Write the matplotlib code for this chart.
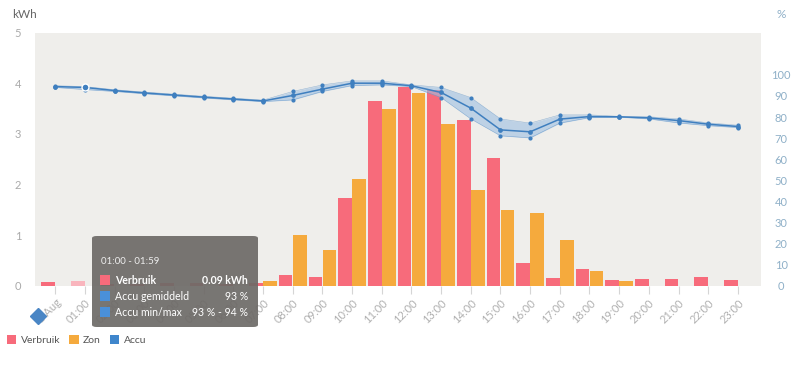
import matplotlib
matplotlib.use("Agg")
import matplotlib.pyplot as plt
from matplotlib.patches import FancyBboxPatch, Rectangle, Patch
from matplotlib.lines import Line2D
import numpy as np

plt.rcParams['font.family'] = ['Lato', 'DejaVu Sans']

# ---- data ----
hours = list(range(24))
tick_labels = ["1 Aug"] + [f"{h:02d}:00" for h in range(1, 24)]
verbruik = [0.07, 0.09, 0.04, 0.04, 0.05, 0.05, 0.04, 0.05, 0.22, 0.18, 1.73, 3.65,
            3.92, 3.87, 3.27, 2.52, 0.46, 0.15, 0.33, 0.12, 0.14, 0.14, 0.17, 0.11]
zon = [0, 0, 0, 0, 0, 0, 0, 0.10, 1.00, 0.71, 2.11, 3.50,
       3.80, 3.20, 1.90, 1.50, 1.44, 0.90, 0.30, 0.10, 0, 0, 0, 0]
accu_avg = [94.4, 94.0, 92.5, 91.4, 90.4, 89.4, 88.5, 87.6, 90.2, 93.2, 96.0, 96.0,
            94.8, 91.6, 84.2, 73.9, 73.0, 79.0, 80.2, 80.1, 79.6, 78.3, 76.6, 75.5]
accu_min = [94.0, 93.0, 92.1, 91.0, 90.0, 89.0, 88.1, 87.3, 88.1, 92.1, 94.9, 95.2,
            94.4, 89.2, 79.1, 71.1, 70.1, 77.1, 79.7, 79.9, 79.1, 77.2, 75.9, 75.0]
accu_max = [94.8, 94.4, 92.9, 91.8, 90.8, 89.8, 88.9, 88.0, 92.1, 95.2, 97.1, 97.1,
            95.2, 94.0, 89.2, 79.1, 77.1, 81.0, 81.0, 80.3, 80.1, 79.1, 77.2, 76.1]
hover_index = 1

RED = '#f76b7b'
RED_HOVER = '#f9b5bd'
ORANGE = '#f5aa3d'
BLUE = '#3f7fbf'
BAND = '#9dbfe2'
BG = '#efeeeb'

fig = plt.figure(figsize=(8, 3.69), dpi=100)
ax = fig.add_axes([35/800, 1-286/369, 726/800, (286-32.5)/369])
ax.set_facecolor(BG)
for s in ax.spines.values():
    s.set_visible(False)

x = np.array(hours)
w = 0.46
red_colors = [RED_HOVER if i == hover_index else RED for i in hours]
ax.bar(x - 0.24, verbruik, width=w, color=red_colors, zorder=2)
ax.bar(x + 0.24, zon, width=w, color=ORANGE, zorder=2)

ax.set_xlim(-0.688, 23.78)
ax.set_ylim(0, 5)
ax.set_yticks([0, 1, 2, 3, 4, 5])
ax.tick_params(axis='y', length=0, pad=10, labelcolor='#aaaaaa', labelsize=8)
ax.set_xticks(x)
ax.set_xticklabels(tick_labels, rotation=45, ha='right', rotation_mode='anchor')
ax.tick_params(axis='x', length=6, width=0.8, color='#d5d5d5', pad=2,
               labelcolor='#b0b0b0', labelsize=8)

ax2 = ax.twinx()
for s in ax2.spines.values():
    s.set_visible(False)
ax2.set_ylim(0, 120)
ax2.set_yticks(range(0, 101, 10))
ax2.tick_params(axis='y', length=0, pad=14.5, labelcolor='#8fb0c8', labelsize=8)
for lab in ax2.get_yticklabels():
    lab.set_ha('center')

ax2.fill_between(x, accu_min, accu_max, color=BAND, alpha=0.6, lw=0, zorder=3)
ax2.plot(x, accu_min, color=BLUE, lw=0.4, alpha=0.5, zorder=3)
ax2.plot(x, accu_max, color=BLUE, lw=0.4, alpha=0.5, zorder=3)
ax2.plot(x, accu_min, 'o', color=BLUE, ms=2.0, zorder=4)
ax2.plot(x, accu_max, 'o', color=BLUE, ms=2.0, zorder=4)
ax2.plot(x, accu_avg, '-o', color=BLUE, lw=1.1, ms=2.4, zorder=5)
ax2.plot([x[hover_index]], [accu_avg[hover_index]], 'o', color=BLUE, ms=5,
         mec='white', mew=1.0, zorder=6)

# axis titles
fig.text(12/800, 1-14/369, 'kWh', color='#666666', fontsize=8.5, va='center')
fig.text(781/800, 1-14/369, '%', color='#8fb0c8', fontsize=8.5, va='center', ha='center')

# diamond marker near date label
fig.add_artist(Line2D([38/800], [1-316/369], marker='D', ms=8.5, color='#4a86c5',
                      transform=fig.transFigure))

# tooltip
tx0, ty0, tx1, ty1 = 92, 236, 258, 327
fig.add_artist(FancyBboxPatch((tx0/800, 1-ty1/369), (tx1-tx0)/800, (ty1-ty0)/369,
                              boxstyle='round,pad=0,rounding_size=0.006',
                              transform=fig.transFigure, facecolor='#6d6a67',
                              edgecolor='none', alpha=0.92, zorder=10))
fig.text(101/800, 1-262/369, '01:00 - 01:59', color='#eeeeee', fontsize=7,
         va='center', zorder=11)
rows = [('Verbruik', '0.09 kWh', RED, 'bold'),
        ('Accu gemiddeld', '93 %', '#4a90d9', 'normal'),
        ('Accu min/max', '93 % - 94 %', '#4a90d9', 'normal')]
for i, (name, val, col, wt) in enumerate(rows):
    yy = 280 + i*16
    fig.add_artist(Rectangle((100/800, 1-(yy+5)/369), 10/800, 10/369,
                             transform=fig.transFigure, facecolor=col,
                             edgecolor='none', zorder=11))
    fig.text(115/800, 1-yy/369, name, color='white', fontsize=7.6, va='center',
             fontweight=wt, zorder=11)
    fig.text(248/800, 1-yy/369, val, color='white', fontsize=7.6, va='center',
             ha='right', fontweight=wt, zorder=11)

# legend
handles = [Patch(facecolor=RED, label='Verbruik'),
           Patch(facecolor=ORANGE, label='Zon'),
           Patch(facecolor='#3f86cc', label='Accu')]
fig.legend(handles=handles, loc='center left', bbox_to_anchor=(-0.003, 1-340/369),
           ncol=3, frameon=False, fontsize=7.5, handlelength=0.9, handleheight=0.9,
           handletextpad=0.4, columnspacing=0.9, labelcolor='#555555')

fig.savefig('out.png', dpi=100)
